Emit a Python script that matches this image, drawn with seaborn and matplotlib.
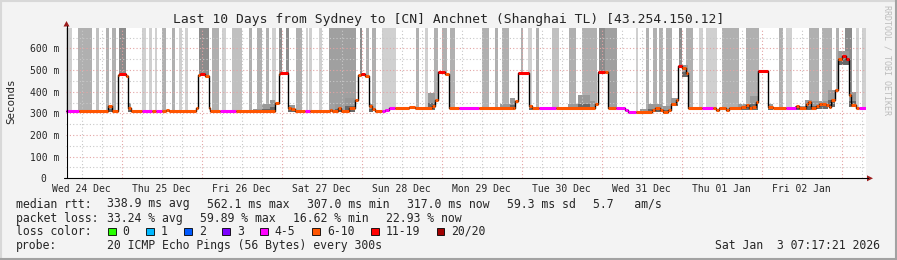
import numpy as np
import pandas as pd
import matplotlib
matplotlib.use("Agg")
import matplotlib.pyplot as plt
from matplotlib.patches import Rectangle, Polygon
from matplotlib.lines import Line2D
import seaborn as sns

# ---------------- data ----------------
TITLE = "Last 10 Days from Sydney to [CN] Anchnet (Shanghai TL) [43.254.150.12]"
T0, T1 = 7.29, 247.29          # hours after Wed 24 Dec 00:00 (graph window)
YMAX = 694                      # ms

day_labels = ["Wed 24 Dec", "Thu 25 Dec", "Fri 26 Dec", "Sat 27 Dec", "Sun 28 Dec",
              "Mon 29 Dec", "Tue 30 Dec", "Wed 31 Dec", "Thu 01 Jan", "Fri 02 Jan"]
y_ticks = [0, 100, 200, 300, 400, 500, 600]
y_tick_labels = ["0  ", "100 m", "200 m", "300 m", "400 m", "500 m", "600 m"]

# median rtt segments: start hour, median (ms), loss bucket
seg_start = [7.3, 11.2, 19.9, 21.0, 23.0, 23.2, 25.3, 26.0, 26.9, 30.0,
             33.2, 34.2, 36.2, 37.2, 38.2, 46.2, 47.0, 47.5, 49.0, 50.1,
             50.4, 53.4, 58.2, 70.1, 71.1, 71.5, 73.9, 74.9, 75.9, 79.1,
             80.4, 86.4, 87.1, 88.9, 89.9, 92.1, 94.1, 94.9, 95.9, 97.1,
             98.1, 99.1, 100.0, 102.1, 103.1, 104.1, 106.1, 110.1, 112.1, 117.1,
             118.1, 118.9, 121.1, 122.1, 125.1, 131.3, 141.3, 142.1, 143.0, 146.1,
             147.1, 149.3, 154.3, 166.1, 167.0, 169.0, 170.0, 172.3, 175.0, 176.0,
             178.3, 183.0, 184.0, 185.5, 186.5, 188.0, 188.8, 190.3, 191.0, 192.0,
             193.2, 194.0, 198.0, 201.5, 202.3, 203.3, 205.3, 206.3, 209.9, 211.2,
             212.2, 213.2, 214.2, 215.0, 218.0, 219.3, 223.2, 226.2, 227.2, 229.2,
             229.9, 230.9, 232.2, 233.2, 234.2, 235.2, 236.2, 236.9, 237.9, 238.9,
             240.2, 241.2, 242.2, 242.9, 244.2, 245.2]
seg_median = [310, 310, 333, 310, 479, 481, 472, 326, 310, 310,
              310, 310, 310, 316, 310, 326, 478, 482, 474, 326,
              310, 310, 310, 349, 480, 484, 326, 318, 310, 310,
              310, 316, 310, 326, 310, 326, 361, 478, 482, 472,
              333, 318, 310, 310, 316, 323, 323, 328, 325, 333,
              361, 493, 480, 323, 323, 323, 326, 357, 488, 333,
              323, 323, 323, 343, 490, 490, 323, 323, 314, 306,
              306, 314, 324, 316, 308, 314, 344, 361, 518, 507,
              487, 323, 323, 323, 314, 323, 314, 323, 330, 338,
              323, 330, 352, 496, 330, 323, 323, 333, 323, 341,
              352, 323, 333, 341, 344, 338, 330, 361, 407, 552,
              564, 552, 384, 338, 323, 323]
seg_loss = ["4-5", "6-10", "6-10", "6-10", "6-10", "11-19", "6-10", "6-10", "6-10", "4-5",
            "6-10", "4-5", "6-10", "6-10", "6-10", "6-10", "6-10", "11-19", "6-10", "6-10",
            "6-10", "4-5", "6-10", "6-10", "6-10", "11-19", "6-10", "6-10", "6-10", "4-5",
            "6-10", "6-10", "6-10", "6-10", "6-10", "6-10", "6-10", "6-10", "11-19", "6-10",
            "6-10", "6-10", "6-10", "4-5", "4-5", "4-5", "6-10", "6-10", "6-10", "6-10",
            "6-10", "11-19", "6-10", "6-10", "4-5", "6-10", "6-10", "6-10", "11-19", "6-10",
            "6-10", "4-5", "6-10", "6-10", "11-19", "6-10", "6-10", "4-5", "4-5", "4-5",
            "6-10", "6-10", "6-10", "6-10", "6-10", "6-10", "6-10", "6-10", "11-19", "6-10",
            "6-10", "6-10", "4-5", "6-10", "6-10", "6-10", "6-10", "6-10", "6-10", "6-10",
            "6-10", "6-10", "6-10", "11-19", "6-10", "6-10", "4-5", "6-10", "6-10", "6-10",
            "6-10", "6-10", "6-10", "6-10", "6-10", "6-10", "6-10", "6-10", "6-10", "6-10",
            "11-19", "11-19", "6-10", "6-10", "6-10", "4-5"]

# smoke bands (high ping spread up to the top): start h, end h, density 1..5
band_start = [7.3, 10.9, 16.3, 19.3, 21.1, 23.2, 30.1, 32.2, 34.0, 36.1,
              39.1, 41.2, 43.0, 47.2, 51.1, 54.1, 57.1, 62.2, 64.6, 67.3,
              69.1, 71.2, 73.3, 76.3, 79.3, 80.2, 83.2, 86.2, 95.5, 97.3,
              99.1, 102.1, 112.3, 115.0, 117.7, 120.1, 122.5, 132.1, 136.0, 138.1,
              143.8, 145.9, 148.3, 153.1, 158.2, 162.1, 167.2, 169.0, 178.3, 181.3,
              183.4, 185.2, 187.3, 191.2, 193.3, 197.2, 199.3, 204.1, 211.3, 221.2,
              223.3, 230.2, 234.1, 238.3, 241.0, 244.3, 246.1]
band_end = [9.1, 15.1, 17.2, 20.2, 22.3, 25.3, 31.3, 33.1, 34.6, 37.3,
            40.0, 42.1, 43.9, 50.2, 53.2, 55.3, 60.1, 63.1, 66.1, 68.2,
            70.3, 72.1, 74.2, 78.1, 79.9, 81.1, 84.1, 94.3, 96.1, 98.2,
            100.3, 106.3, 113.2, 115.9, 118.9, 121.6, 124.0, 134.2, 136.9, 140.2,
            144.4, 147.1, 149.2, 155.2, 160.3, 166.6, 169.0, 172.6, 178.9, 182.2,
            184.6, 186.4, 189.1, 192.1, 195.4, 198.4, 202.6, 209.2, 215.2, 222.4,
            225.1, 233.2, 237.1, 239.2, 243.1, 245.2, 247.29]
band_level = [1, 3, 2, 3, 3, 5, 1, 1, 1, 3,
              3, 1, 1, 5, 3, 1, 2, 3, 3, 3,
              1, 5, 5, 3, 1, 1, 1, 4, 5, 3,
              3, 1, 3, 1, 3, 3, 3, 3, 3, 3,
              3, 1, 3, 2, 3, 3, 5, 4, 1, 3,
              3, 3, 3, 5, 3, 1, 1, 3, 3, 3,
              1, 3, 3, 3, 5, 1, 1]

# dense smoke close to the median: start h, end h, low ms, high ms
near_start = [19.9, 26.0, 63.5, 66.0, 68.5, 74.0, 88.0, 91.0, 98.1, 116.0,
              137.5, 140.5, 146.1, 158.0, 161.0, 164.5, 179.5, 182.0, 186.0, 188.8,
              192.0, 209.0, 212.5, 218.0, 226.0, 229.0, 231.0, 236.0, 238.9, 242.2]
near_end = [21.0, 26.9, 66.0, 68.5, 70.1, 76.0, 90.0, 94.1, 99.5, 118.1,
            140.5, 142.1, 147.5, 161.0, 164.5, 166.1, 182.0, 186.0, 188.8, 191.0,
            194.0, 212.5, 215.0, 219.5, 229.0, 231.0, 236.0, 238.0, 242.2, 244.2]
near_lo = [305, 305, 305, 305, 305, 305, 305, 305, 305, 315,
           315, 315, 315, 315, 315, 315, 300, 305, 305, 335,
           470, 315, 315, 315, 315, 315, 320, 330, 525, 330]
near_hi = [340, 350, 322, 345, 360, 340, 345, 372, 345, 395,
           345, 370, 340, 345, 385, 355, 320, 345, 335, 370,
           525, 345, 380, 345, 335, 360, 355, 410, 590, 400]

loss_labels = ["0", "1", "2", "3", "4-5", "6-10", "11-19", "20/20"]
loss_colors = ["#26ff00", "#00b8ff", "#0059ff", "#7e00ff", "#ff00ff",
               "#ff5500", "#ff0000", "#a10000"]

rtt_items = ["338.9 ms avg", "562.1 ms max", "307.0 ms min", "317.0 ms now",
             "59.3 ms sd", "5.7   am/s"]
loss_items = ["33.24 % avg", "59.89 % max", "16.62 % min", "22.93 % now"]
probe_text = "20 ICMP Echo Pings (56 Bytes) every 300s"
stamp_text = "Sat Jan  3 07:17:21 2026"

# ---------------- style ----------------
sns.set_theme(style="white")
plt.rcParams["font.family"] = ["DejaVu Sans Mono"]
MONO = "DejaVu Sans Mono"

W, H = 897, 260
fig = plt.figure(figsize=(W / 100, H / 100), dpi=100)
fig.patch.set_facecolor("#f3f3f3")

ax_l, ax_r, ax_t, ax_b = 66, 866, 28, 178.3
ax = fig.add_axes([ax_l / W, 1 - ax_b / H, (ax_r - ax_l) / W, (ax_b - ax_t) / H])
ax.set_facecolor("white")
ax.set_xlim(T0, T1)
ax.set_ylim(0, YMAX)

smoke_colors = {1: "#d0d0d0", 2: "#c0c0c0", 3: "#b0b0b0", 4: "#a0a0a0", 5: "#8c8c8c"}

starts = np.array(seg_start)
meds = np.array(seg_median, dtype=float)


def median_at(t):
    idx = np.searchsorted(starts, t, side="right") - 1
    return meds[np.clip(idx, 0, None)]


for s, e, lvl in zip(band_start, band_end, band_level):
    inner = starts[(starts > s) & (starts < e)]
    xs = np.concatenate([[s], inner, [e]])
    bot = median_at(xs)
    ax.fill_between(xs, bot, YMAX, step="post", color=smoke_colors[lvl], lw=0, zorder=1)

for s, e, lo, hi in zip(near_start, near_end, near_lo, near_hi):
    ax.fill_between([s, e], [lo, lo], [hi, hi], color="#999999", lw=0, zorder=2)
    mid = lo + (hi - lo) * 0.4
    ax.fill_between([s, e], [lo, lo], [mid, mid], color="#686868", lw=0, zorder=2)

# grid (drawn over smoke, under median)
dots = (0, (1, 2))
for h in np.arange(12, T1, 6):
    if h % 24 == 0:
        ax.axvline(h, color="#e3a3a3", lw=0.8, ls=dots, zorder=3)
    else:
        ax.axvline(h, color="#c8c8c8", lw=0.8, ls=dots, zorder=3)
for v in range(50, YMAX, 100):
    ax.axhline(v, color="#c8c8c8", lw=0.8, ls=dots, zorder=3)
for v in range(100, YMAX, 100):
    ax.axhline(v, color="#e3a3a3", lw=0.8, ls=dots, zorder=3)

# median line
seg_end = seg_start[1:] + [T1]
df = pd.DataFrame({"t": seg_start + [T1], "ms": seg_median + [seg_median[-1]]})
sns.lineplot(data=df, x="t", y="ms", drawstyle="steps-post", color="black",
             lw=1.0, ax=ax, zorder=4, estimator=None)
cmap = dict(zip(loss_labels, loss_colors))
ax.hlines(seg_median, seg_start, seg_end, colors=[cmap[l] for l in seg_loss],
          lw=2.2, zorder=5)

ax.set_xlabel("")
ax.set_ylabel("")
ax.set_xticks([12 + 24 * i for i in range(len(day_labels))])
ax.set_xticklabels(day_labels, fontsize=7, family=MONO)
ax.set_yticks(y_ticks)
ax.set_yticklabels(y_tick_labels, fontsize=7, family=MONO)
ax.tick_params(axis="x", length=0, pad=4)
ax.tick_params(axis="y", length=0, pad=5)
for sp in ax.spines.values():
    sp.set_visible(False)
ax.grid(False)

# ---------------- overlay in pixel coordinates ----------------
ov = fig.add_axes([0, 0, 1, 1])
ov.set_xlim(0, W)
ov.set_ylim(H, 0)
ov.axis("off")
ov.patch.set_alpha(0)
ov.set_zorder(10)

# frame
ov.add_line(Line2D([0, W], [1, 1], color="#d8d8d8", lw=1.5))
ov.add_line(Line2D([1, 1], [0, H], color="#d8d8d8", lw=1.5))
ov.add_line(Line2D([0, W], [258.8, 258.8], color="#a2a2a2", lw=1.5))
ov.add_line(Line2D([895.8, 895.8], [0, H], color="#a2a2a2", lw=1.5))

# axes lines + arrows
ov.add_line(Line2D([66.5, 66.5], [ax_b, 26], color="black", lw=0.8))
ov.add_line(Line2D([64, 868], [ax_b, ax_b], color="black", lw=0.8))
ov.add_patch(Polygon([(63.5, 26.5), (69.5, 26.5), (66.5, 21.0)], closed=True,
                     color="#9b1c1c", lw=0))
ov.add_patch(Polygon([(867, ax_b - 3), (867, ax_b + 3), (873, ax_b)], closed=True,
                     color="#9b1c1c", lw=0))

ov.text(448.5, 19, TITLE, ha="center", va="center", fontsize=9.4, family=MONO)
ov.text(11, 101, "Seconds", ha="center", va="center", rotation=90, fontsize=7.8, family=MONO)
ov.text(887, 60, "RRDTOOL / TOBI OETIKER", ha="center", va="center", rotation=270,
        fontsize=6, family=MONO, color="#bcbcbc")

LFS = 8.3
CW = 6.94      # char width in px of the legend font
GAP = 16.7
rows_y = [204, 218.3, 231.5, 245.8]

ov.text(16, rows_y[0], "median rtt:", ha="left", va="center", fontsize=LFS, family=MONO)
x = 107
for item in rtt_items:
    ov.text(x, rows_y[0], item, ha="left", va="center", fontsize=LFS, family=MONO)
    x += len(item) * CW + GAP

ov.text(16, rows_y[1], "packet loss:", ha="left", va="center", fontsize=LFS, family=MONO)
x = 107
for item in loss_items:
    ov.text(x, rows_y[1], item, ha="left", va="center", fontsize=LFS, family=MONO)
    x += len(item) * CW + GAP

ov.text(16, rows_y[2], "loss color:", ha="left", va="center", fontsize=LFS, family=MONO)
x = 108.3
for lab, col in zip(loss_labels, loss_colors):
    ov.add_patch(Rectangle((x, rows_y[2] - 3.7), 7.3, 7.3, facecolor=col,
                           edgecolor="black", lw=0.6))
    ov.text(x + 14.4, rows_y[2], lab, ha="left", va="center", fontsize=LFS, family=MONO)
    x += 14.4 + len(lab) * CW + GAP

ov.text(16, rows_y[3], "probe:", ha="left", va="center", fontsize=LFS, family=MONO)
ov.text(107, rows_y[3], probe_text, ha="left", va="center", fontsize=LFS, family=MONO)
ov.text(880, rows_y[3], stamp_text, ha="right", va="center", fontsize=LFS, family=MONO)

fig.savefig("out.png", dpi=100, facecolor=fig.get_facecolor())
